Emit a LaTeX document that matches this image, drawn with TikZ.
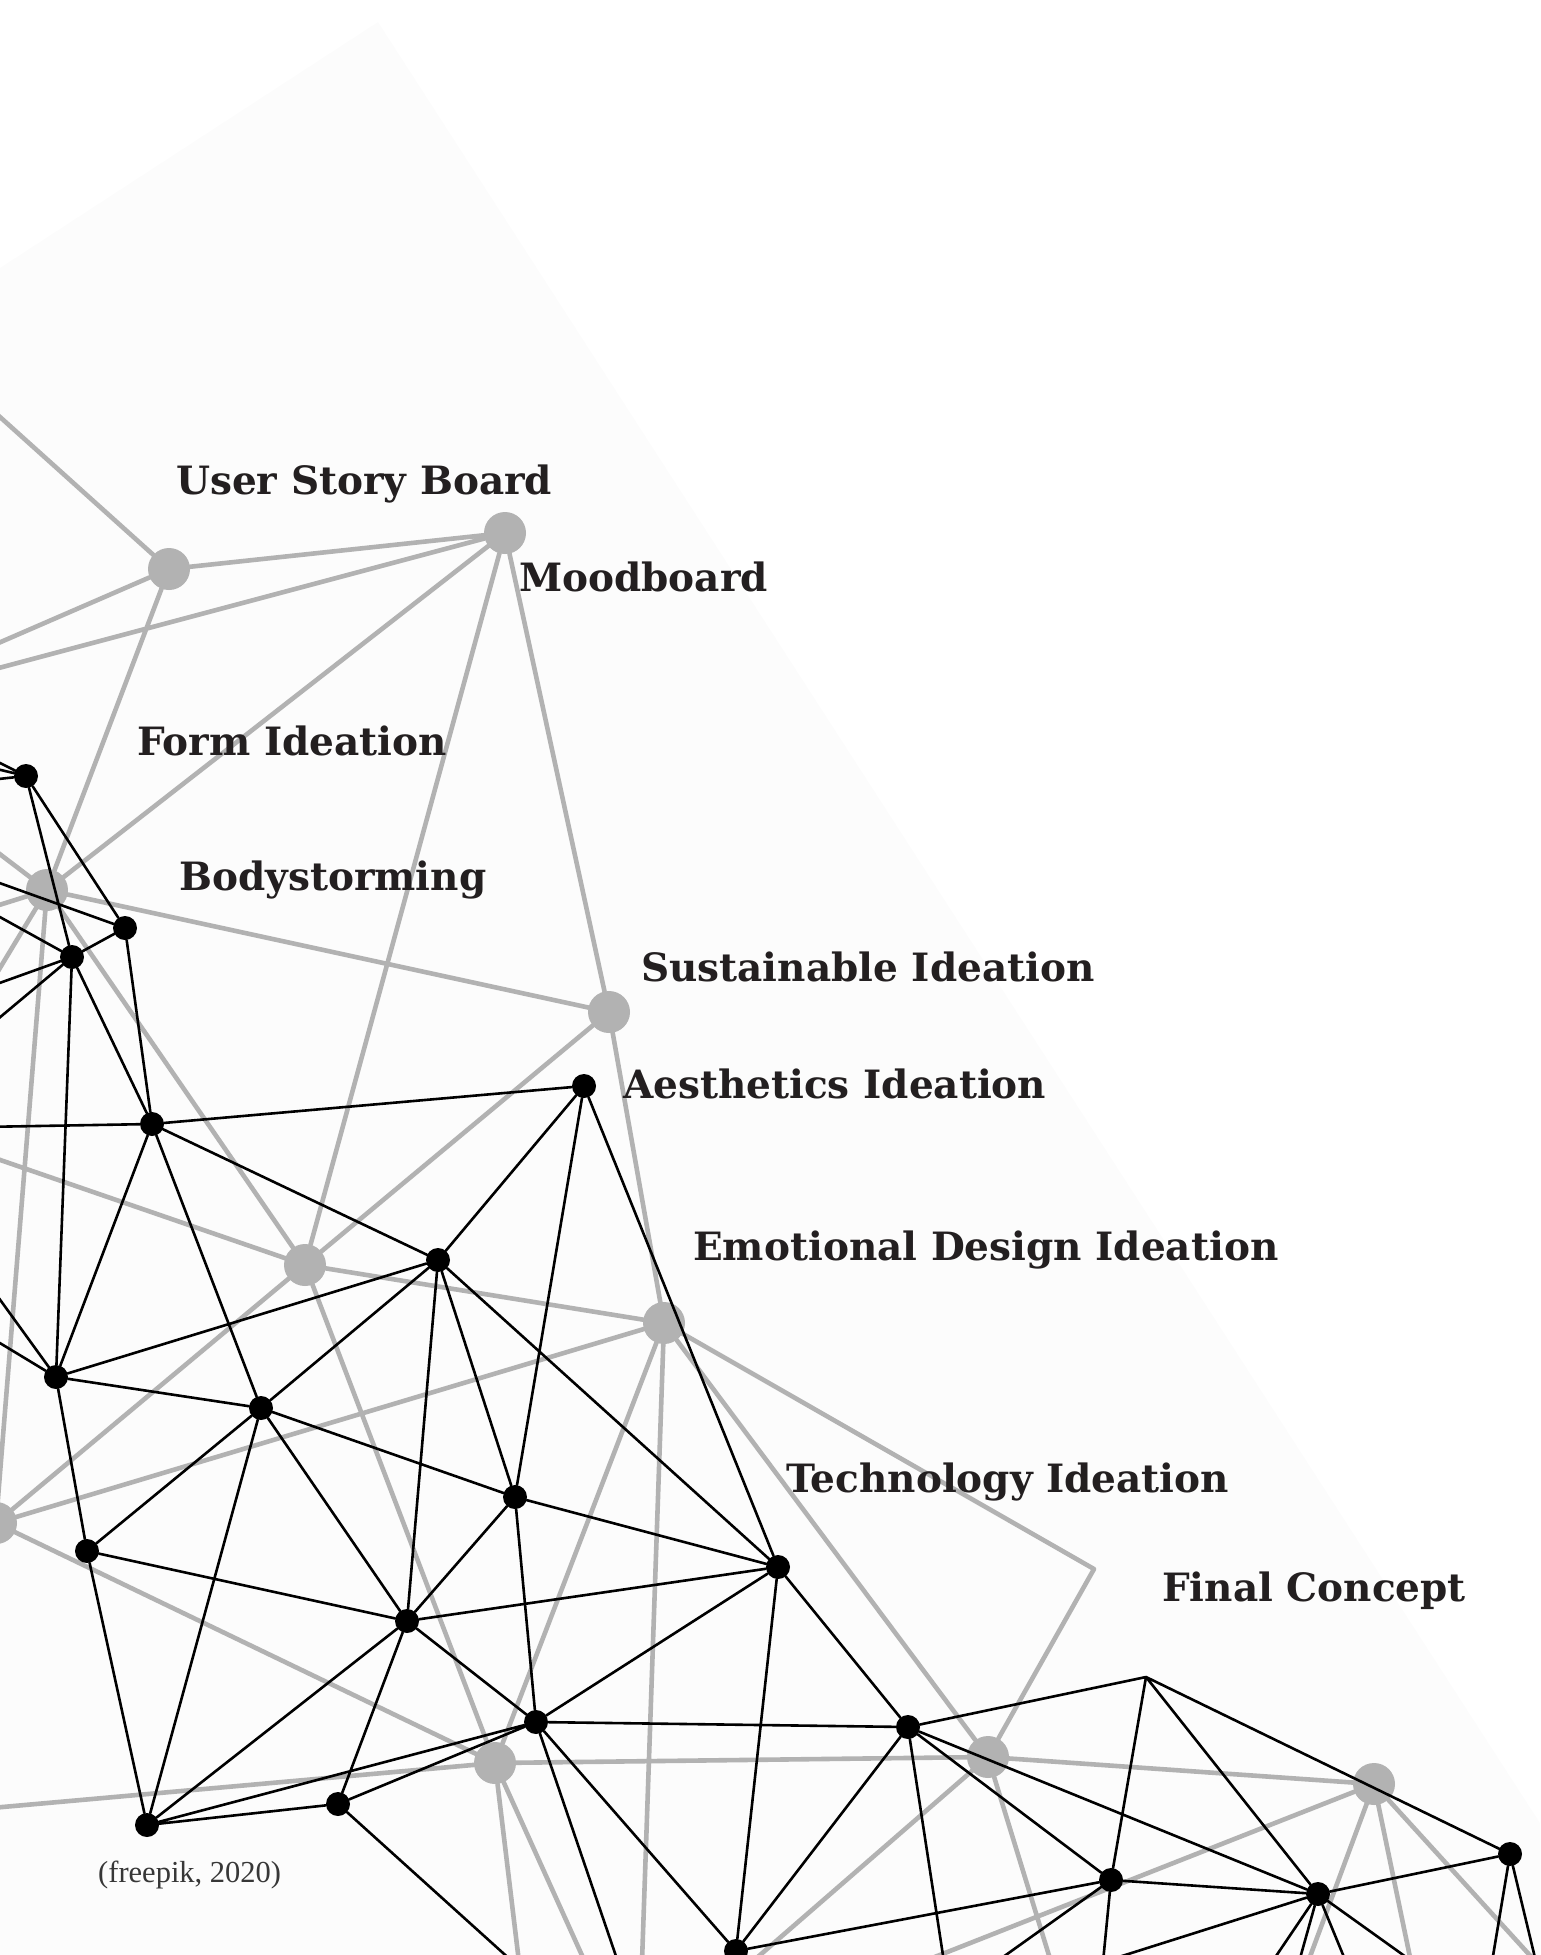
\documentclass[tikz,border=0pt]{standalone}
\usepackage{fontspec}
\newfontfamily\labelfont{DejaVu Serif}
\newfontfamily\notefont{Liberation Serif}
\definecolor{netgray}{RGB}{178,178,178}
\definecolor{bandgray}{RGB}{252,252,252}
\definecolor{labelink}{RGB}{35,31,32}
\definecolor{noteink}{RGB}{55,55,55}
\pgfdeclarelayer{band}
\pgfdeclarelayer{glines}
\pgfdeclarelayer{gdots}
\pgfdeclarelayer{blines}
\pgfsetlayers{band,glines,gdots,blines,main}
\tikzset{
  gdot/.style={circle,fill=netgray,inner sep=0pt,minimum size=42pt},
  bdot/.style={circle,fill=black,inner sep=0pt,minimum size=24pt},
  gline/.style={draw=netgray,line width=4.6pt,line cap=round,line join=round},
  bline/.style={draw=black,line width=2.6pt,line cap=round,line join=round},
  lab/.style={anchor=base west,inner sep=0pt,text=labelink,
    font=\labelfont\bfseries\fontsize{39}{47}\selectfont},
  note/.style={anchor=base west,inner sep=0pt,text=noteink,
    font=\notefont\fontsize{30.5}{36}\selectfont}
}
\begin{document}
\begin{tikzpicture}[x=1pt,y=-1pt]
\useasboundingbox (0,0) rectangle (1540,1955);

% ---------- large grey hubs ----------
\begin{pgfonlayer}{gdots}
\node[gdot] (g1) at (169,569) {};
\node[gdot] (g2) at (505,533) {};
\node[gdot] (g3) at (47,890) {};
\node[gdot] (g4) at (609,1012) {};
\node[gdot] (g5) at (305,1265) {};
\node[gdot] (g6) at (664,1323) {};
\node[gdot] (g7) at (-4,1523) {};
\node[gdot] (g8) at (495,1763) {};
\node[gdot] (g9) at (988,1757) {};
\node[gdot] (g10) at (1374,1784) {};
\end{pgfonlayer}
\coordinate (gk) at (1094,1569);

% ---------- small black points ----------
\node[bdot] (b1) at (26,776) {};
\node[bdot] (b2) at (125,928) {};
\node[bdot] (b3) at (72,957) {};
\node[bdot] (b4) at (152,1124) {};
\node[bdot] (b5) at (584,1086) {};
\node[bdot] (b6) at (438,1260) {};
\node[bdot] (b7) at (56,1377) {};
\node[bdot] (b8) at (261,1408) {};
\node[bdot] (b9) at (515,1497) {};
\node[bdot] (b10) at (778,1567) {};
\node[bdot] (b11) at (87,1551) {};
\node[bdot] (b12) at (407,1621) {};
\node[bdot] (b13) at (536,1722) {};
\node[bdot] (b14) at (908,1727) {};
\node[bdot] (b15) at (338,1804) {};
\node[bdot] (b16) at (147,1825) {};
\node[bdot] (b18) at (1111,1880) {};
\node[bdot] (b19) at (1318,1894) {};
\node[bdot] (b20) at (1510,1854) {};
\node[bdot] (b21) at (736,1951) {};
\coordinate (b17) at (1146,1677);

% ---------- loose ends beyond the page ----------
\coordinate (ga) at (-20,399);
\coordinate (gb) at (-20,651);
\coordinate (gc) at (-20,673);
\coordinate (gd) at (-20,839);
\coordinate (ge) at (-20,911);
\coordinate (gf) at (-20,1001);
\coordinate (gg) at (-20,1153);
\coordinate (gh) at (-20,1809);
\coordinate (gs1) at (642,1962);
\coordinate (gs2) at (519,1962);
\coordinate (gs3) at (585,1962);
\coordinate (gs4) at (752,1962);
\coordinate (gs5) at (1051,1962);
\coordinate (gs6) at (922,1962);
\coordinate (gs7) at (1308,1962);
\coordinate (gs8) at (1411,1962);
\coordinate (gs9) at (1536,1962);

\coordinate (ba) at (-20,753);
\coordinate (bb) at (-20,765);
\coordinate (bc) at (-20,781);
\coordinate (bd) at (-20,876);
\coordinate (be) at (-20,906);
\coordinate (bf) at (-20,990);
\coordinate (bg) at (-20,1034);
\coordinate (bh) at (-20,1127);
\coordinate (bi) at (-20,1272);
\coordinate (bj) at (-20,1331);
\coordinate (bs1) at (618,1962);
\coordinate (bs2) at (944,1962);
\coordinate (bs3) at (513,1962);
\coordinate (bs4) at (996,1962);
\coordinate (bs5) at (1103,1962);
\coordinate (bs6) at (1272,1962);
\coordinate (bs7) at (1299,1962);
\coordinate (bs8) at (1346,1962);
\coordinate (bs9) at (1413,1962);
\coordinate (bs10) at (1492,1962);
\coordinate (bs11) at (1536,1962);

% ---------- pale backdrop ----------
\begin{pgfonlayer}{band}
\fill[bandgray] (0,268) -- (378,22) -- (1540,1823) -- (1540,1955) -- (0,1955) -- cycle;
\end{pgfonlayer}

% ---------- grey web ----------
\begin{pgfonlayer}{glines}
\path[gline]
  (ga) -- (g1)  (gb) -- (g1)  (gc) -- (g2)
  (g1) -- (g2)  (g1) -- (g3)  (g2) -- (g3)  (g2) -- (g5)  (g2) -- (g4)
  (gd) -- (g3)  (ge) -- (g3)  (gf) -- (g3)
  (g3) -- (g4)  (g3) -- (g5)  (g3) -- (g7)
  (gg) -- (g5)  (g4) -- (g5)  (g4) -- (g6)
  (g5) -- (g6)  (g5) -- (g7)  (g5) -- (g8)
  (g7) -- (g6)  (g7) -- (g8)  (gh) -- (g8)
  (g6) -- (g8)  (g6) -- (gs1) (g6) -- (g9)  (g6) -- (gk) -- (g9)
  (g8) -- (g9)  (g8) -- (gs2) (g8) -- (gs3)
  (g9) -- (g10) (g9) -- (gs4) (g9) -- (gs5)
  (g10) -- (gs6) (g10) -- (gs7) (g10) -- (gs8) (g10) -- (gs9);
\end{pgfonlayer}

% ---------- black web ----------
\begin{pgfonlayer}{blines}
\path[bline]
  (ba) -- (b1)  (bb) -- (b1)  (bc) -- (b1)
  (b1) -- (b2)  (b1) -- (b3)  (bd) -- (b2)
  (b2) -- (b3)  (b2) -- (b4)
  (be) -- (b3)  (bf) -- (b3)  (bg) -- (b3)  (b3) -- (b4)  (b3) -- (b7)
  (bh) -- (b4)  (b4) -- (b5)  (b4) -- (b6)  (b4) -- (b7)  (b4) -- (b8)
  (b5) -- (b6)  (b5) -- (b9)  (b5) -- (b10)
  (b6) -- (b7)  (b6) -- (b8)  (b6) -- (b9)  (b6) -- (b10) (b6) -- (b12)
  (bi) -- (b7)  (bj) -- (b7)  (b7) -- (b8)  (b7) -- (b11)
  (b8) -- (b9)  (b8) -- (b11) (b8) -- (b12) (b8) -- (b16)
  (b9) -- (b10) (b9) -- (b12) (b9) -- (b13)
  (b10) -- (b12) (b10) -- (b13) (b10) -- (b14) (b10) -- (b21)
  (b11) -- (b12) (b11) -- (b16)
  (b12) -- (b13) (b12) -- (b15) (b12) -- (b16)
  (b13) -- (b14) (b13) -- (b15) (b13) -- (b16) (b13) -- (b21) (b13) -- (bs1)
  (b14) -- (b17) (b14) -- (b18) (b14) -- (b19) (b14) -- (b21) (b14) -- (bs2)
  (b15) -- (b16) (b15) -- (bs3)
  (b17) -- (b18) (b17) -- (b19) (b17) -- (b20)
  (b18) -- (b19) (b18) -- (b21) (b18) -- (bs4) (b18) -- (bs5)
  (b19) -- (b20) (b19) -- (bs5) (b19) -- (bs6) (b19) -- (bs7) (b19) -- (bs8) (b19) -- (bs9)
  (b20) -- (bs10) (b20) -- (bs11);
\end{pgfonlayer}

% ---------- labels ----------
\node[lab] (t1) at (176,494) {User Story Board};
\node[lab] (t2) at (519,591) {Moodboard};
\node[lab] (t3) at (137,755) {Form Ideation};
\node[lab] (t4) at (179,890) {Bodystorming};
\node[lab] (t5) at (641,981) {Sustainable Ideation};
\node[lab] (t6) at (623,1098) {Aesthetics Ideation};
\node[lab] (t7) at (693,1260) {Emotional Design Ideation};
\node[lab] (t8) at (786,1492) {Technology Ideation};
\node[lab] (t9) at (1162,1601) {Final Concept};
\node[note] (t10) at (98,1882) {(freepik, 2020)};
\end{tikzpicture}
\end{document}
